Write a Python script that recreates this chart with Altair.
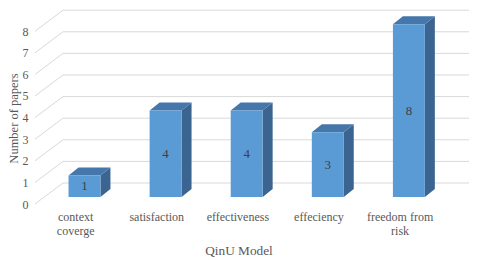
import json
import altair as alt
import pandas as pd

# ---- data ----
categories = ["context coverge", "satisfaction", "effectiveness", "effeciency", "freedom from risk"]
label_lines = [["context", "coverge"], ["satisfaction"], ["effectiveness"], ["effeciency"], ["freedom from", "risk"]]
values = [1, 4, 4, 3, 8]
y_ticks = [0, 1, 2, 3, 4, 5, 6, 7, 8]
x_title = "QinU Model"
y_title = "Number of papers"

# ---- 3D geometry (in scale units) ----
X_MIN, X_MAX = -0.6104, 4.7411
Y_MAX = 8.981
BAR_HALF = 0.197
BAR_DX, BAR_DY = 0.123, 0.37
FACE_OFF = 0.324
LABEL_DX = -0.115
WALL_DX, WALL_DY = 0.345, 0.972

FRONT = "#5b9bd5"
TOP = "#4677ab"
SIDE = "#3b6590"
GRID = "#d9d9d9"
SERIF = "Liberation Serif"

front_rows, side_rows, top_rows = [], [], []
for i, (c, v) in enumerate(zip(categories, values)):
    xl, xr = i - BAR_HALF, i + BAR_HALF
    y0, y1 = FACE_OFF, v + FACE_OFF
    front_rows.append(dict(cat=c, xl=xl, xr=xr, y0=y0, y1=y1, v=v, xc=i, yc=(y0 + y1) / 2))
    side_rows.append(dict(cat=c, x=xr, ylo=y0, yhi=y1))
    side_rows.append(dict(cat=c, x=xr + BAR_DX, ylo=y0 + BAR_DY, yhi=y1 + BAR_DY))
    top_rows.append(dict(cat=c, y=y1, x=xl, x2=xr))
    top_rows.append(dict(cat=c, y=y1 + BAR_DY, x=xl + BAR_DX, x2=xr + BAR_DX))

front_df = pd.DataFrame(front_rows)
side_df = pd.DataFrame(side_rows)
top_df = pd.DataFrame(top_rows)

wall_df = pd.DataFrame([dict(x=X_MIN + WALL_DX, x2=X_MAX, y=t + WALL_DY, y2=t + WALL_DY) for t in y_ticks])
diag_df = pd.DataFrame([dict(x=X_MIN, x2=X_MIN + WALL_DX, y=t, y2=t + WALL_DY) for t in y_ticks])

xscale = alt.Scale(domain=[X_MIN, X_MAX], nice=False, zero=False)
yscale = alt.Scale(domain=[0, Y_MAX], nice=False, zero=False)

label_expr = json.dumps(label_lines) + "[round(datum.value - (" + str(LABEL_DX) + "))]"

x_axis = alt.Axis(
    values=[i + LABEL_DX for i in range(len(categories))],
    labelExpr=label_expr,
    labelPadding=7, labelLineHeight=14, labelBaseline="top",
    title=x_title, titleX=203.5, titleY=46, titleBaseline="middle",
)
y_axis = alt.Axis(
    values=y_ticks, labelPadding=7,
    title=y_title, titleX=-17.5, titleY=108, titleBaseline="alphabetic", titleAngle=-90,
    titleFontSize=12.5,
)


def X(field):
    return alt.X(field, type="quantitative", scale=xscale, axis=x_axis)


def Y(field):
    return alt.Y(field, type="quantitative", scale=yscale, axis=y_axis)


wall = alt.Chart(wall_df).mark_rule(color=GRID, strokeWidth=1).encode(
    x=X("x"), x2="x2:Q", y=Y("y"), y2="y2:Q",
)
diag = alt.Chart(diag_df).mark_rule(color=GRID, strokeWidth=1).encode(
    x=X("x"), x2="x2:Q", y=Y("y"), y2="y2:Q",
)
side = alt.Chart(side_df).mark_area(color=SIDE, opacity=1).encode(
    x=X("x"), y=Y("ylo"), y2="yhi:Q", detail="cat:N",
)
top = alt.Chart(top_df).mark_area(color=TOP, opacity=1, orient="horizontal").encode(
    y=Y("y"), x=X("x"), x2="x2:Q", detail="cat:N",
)
front = alt.Chart(front_df).mark_rect(color=FRONT).encode(
    x=X("xl"), x2="xr:Q", y=Y("y0"), y2="y1:Q",
)
text = alt.Chart(front_df).mark_text(font=SERIF, fontSize=13, color="#404040").encode(
    x=X("xc"), y=Y("yc"), text="v:Q",
)

chart = alt.layer(wall, diag, side, top, front, text).properties(
    width=434, height=194,
    autosize=alt.AutoSizeParams(type="none"),
    padding={"left": 27, "top": 2, "right": 3, "bottom": 56},
    background="white",
).configure_view(stroke=None).configure_axis(
    domain=False, ticks=False, grid=False, labelOverlap=False,
    labelFont=SERIF, labelFontSize=12, labelColor="#595959",
    titleFont=SERIF, titleFontSize=13.3, titleFontWeight="normal", titleColor="#595959",
).configure_text(font=SERIF)

chart.save("out.html", embed_options={"renderer": "svg", "actions": False})
